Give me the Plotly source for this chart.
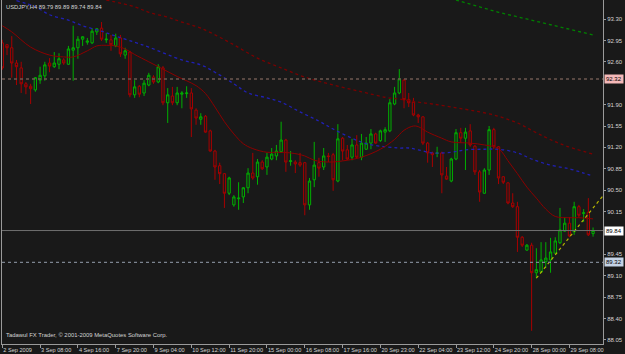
import plotly.graph_objects as go

# ---------------- data ----------------
bars = list(range(126))

opens = [92.91, 92.88, 92.83, 92.58, 92.50, 92.24, 92.20, 92.14, 92.30, 92.37,
         92.58, 92.52, 92.56, 92.63, 92.56, 92.79, 92.83, 92.97, 92.92, 92.91,
         93.09, 93.15, 92.96, 92.96, 92.86, 92.99, 92.71, 92.76, 92.06, 92.20,
         92.09, 92.22, 92.35, 92.27, 92.50, 91.93, 92.04, 91.93, 92.07, 92.08,
         92.09, 91.81, 91.66, 91.71, 91.47, 91.14, 90.90, 90.77, 90.45, 90.26,
         90.36, 90.39, 90.54, 90.78, 90.72, 90.96, 90.88, 91.01, 91.06, 91.13,
         91.32, 90.97, 90.96, 90.95, 90.95, 90.26, 90.67, 90.95, 90.88, 91.06,
         91.08, 90.65, 91.35, 91.16, 91.04, 91.24, 91.04, 91.17, 91.27, 91.42,
         91.31, 91.45, 91.47, 91.91, 92.09, 92.30, 91.98, 91.94, 91.73, 91.70,
         91.27, 91.11, 91.10, 91.11, 90.73, 90.65, 91.01, 91.44, 91.35, 91.47,
         91.22, 90.80, 90.45, 90.83, 91.49, 91.21, 90.72, 90.62, 90.29, 90.23,
         89.73, 89.52, 89.60, 89.15, 89.16, 89.33, 89.36, 89.47, 89.64, 89.83,
         89.96, 89.82, 90.23, 90.12, 90.14, 89.79]

highs = [92.96, 92.89, 93.02, 92.63, 92.60, 92.27, 92.24, 92.35, 92.52, 92.60,
         92.66, 92.76, 92.74, 92.66, 92.86, 93.19, 93.02, 93.02, 92.99, 93.15,
         93.15, 93.25, 93.07, 93.04, 93.06, 93.04, 92.83, 92.78, 92.30, 92.22,
         92.30, 92.42, 92.38, 92.56, 92.53, 92.17, 92.19, 92.19, 92.12, 92.20,
         92.17, 91.84, 91.76, 91.73, 91.49, 91.16, 90.95, 90.78, 90.72, 90.42,
         90.63, 90.55, 90.86, 91.11, 91.01, 90.99, 91.11, 91.19, 91.24, 91.62,
         91.34, 91.14, 90.99, 91.11, 90.96, 90.70, 91.29, 91.03, 91.19, 91.11,
         91.11, 91.58, 91.37, 91.24, 91.34, 91.40, 91.42, 91.37, 91.50, 91.44,
         91.49, 91.53, 91.99, 92.19, 92.48, 92.32, 92.09, 92.01, 91.75, 91.71,
         91.29, 91.13, 91.21, 91.13, 90.88, 91.03, 91.50, 91.52, 91.52, 91.58,
         91.24, 90.83, 90.86, 91.55, 91.52, 91.22, 90.73, 90.63, 90.45, 90.31,
         89.75, 89.62, 89.64, 89.55, 89.65, 89.65, 89.72, 89.73, 90.21, 90.06,
         90.06, 90.31, 90.26, 90.19, 90.37, 89.89]

lows = [92.47, 92.71, 92.34, 92.22, 92.09, 92.07, 91.91, 92.11, 92.24, 92.29,
        92.43, 92.50, 92.48, 92.55, 92.55, 92.29, 92.65, 92.86, 92.88, 92.89,
        93.04, 92.94, 92.91, 92.78, 92.84, 92.68, 92.65, 92.02, 92.01, 92.02,
        92.04, 92.20, 92.24, 92.25, 91.89, 91.60, 91.89, 91.89, 91.84, 92.01,
        91.37, 91.57, 91.57, 91.44, 91.13, 90.67, 90.60, 90.21, 90.42, 90.23,
        90.18, 90.29, 90.45, 90.67, 90.59, 90.83, 90.75, 90.99, 90.99, 91.11,
        90.80, 90.90, 90.78, 90.88, 90.09, 90.18, 90.55, 90.72, 90.83, 90.96,
        90.49, 90.63, 90.99, 90.99, 90.99, 91.01, 90.99, 91.16, 91.17, 91.26,
        91.29, 91.29, 91.45, 91.89, 92.07, 91.84, 91.86, 91.71, 91.60, 91.24,
        90.95, 90.88, 91.04, 90.45, 90.67, 90.63, 90.99, 91.27, 90.83, 91.21,
        90.75, 90.31, 90.44, 90.75, 91.17, 90.60, 90.60, 90.27, 90.21, 89.49,
        89.57, 89.51, 88.20, 89.06, 89.15, 89.23, 89.15, 89.46, 89.62, 89.82,
        89.73, 89.77, 90.05, 89.98, 89.75, 89.74]

closes = [92.50, 92.83, 92.58, 92.52, 92.24, 92.19, 92.16, 92.34, 92.38, 92.55,
          92.53, 92.58, 92.65, 92.58, 92.81, 92.83, 92.97, 93.01, 92.94, 93.10,
          93.14, 92.97, 92.97, 92.88, 92.99, 92.73, 92.78, 92.06, 92.19, 92.07,
          92.25, 92.38, 92.27, 92.52, 91.93, 92.06, 91.93, 92.09, 92.09, 92.09,
          91.83, 91.68, 91.70, 91.45, 91.14, 90.88, 90.77, 90.45, 90.70, 90.39,
          90.37, 90.54, 90.78, 90.70, 90.96, 90.85, 91.04, 91.09, 91.14, 91.32,
          90.96, 90.98, 90.93, 90.91, 90.26, 90.65, 90.91, 90.86, 91.06, 91.05,
          90.67, 91.34, 91.14, 91.01, 91.24, 91.04, 91.27, 91.27, 91.42, 91.27,
          91.47, 91.49, 91.93, 92.09, 92.32, 91.98, 91.93, 91.73, 91.70, 91.27,
          91.11, 91.08, 91.11, 90.75, 90.68, 91.01, 91.44, 91.35, 91.45, 91.24,
          90.80, 90.47, 90.83, 91.49, 91.21, 90.70, 90.63, 90.29, 90.23, 89.73,
          89.60, 89.60, 89.15, 89.20, 89.36, 89.39, 89.49, 89.67, 89.85, 89.96,
          89.75, 90.23, 90.09, 90.13, 89.77, 89.84]

# moving averages (bar index, price)
ma_red_x = [0, 2, 6, 10, 13, 15, 18, 20, 22, 24, 26, 28, 31, 34, 37, 41, 43, 45, 47, 49,
            51, 53, 56, 58, 61, 64, 66, 69, 73, 76, 80, 83, 85, 87, 88, 90, 93, 95, 99, 102,
            105, 107, 109, 111, 113, 115, 117, 120, 122, 125]
ma_red_y = [93.19, 93.09, 92.84, 92.71, 92.68, 92.68, 92.78, 92.86, 92.87, 92.86,
            92.81, 92.72, 92.60, 92.48, 92.36, 92.21, 92.08, 91.86, 91.62, 91.42,
            91.26, 91.18, 91.12, 91.12, 91.11, 91.06, 90.99, 90.96, 90.99, 91.04,
            91.17, 91.33, 91.48, 91.55, 91.54, 91.45, 91.35, 91.29, 91.27, 91.24,
            91.18, 90.98, 90.77, 90.55, 90.37, 90.19, 90.07, 90.05, 90.05, 90.03]

ma_blue_x = [3, 7, 10, 14, 17, 21, 24, 28, 31, 38, 42, 45, 49, 52, 56, 59, 63, 67, 70, 74,
             77, 81, 84, 86, 88, 91, 95, 98, 102, 105, 109, 112, 116, 120, 123, 125]
ma_blue_y = [93.60, 93.50, 93.37, 93.28, 93.19, 93.10, 93.02, 92.92, 92.84, 92.63,
             92.55, 92.43, 92.24, 92.09, 92.01, 91.94, 91.78, 91.63, 91.50, 91.35,
             91.26, 91.21, 91.19, 91.19, 91.16, 91.11, 91.12, 91.16, 91.17, 91.17,
             91.11, 91.01, 90.91, 90.85, 90.78, 90.73]

ma_slow_x = [22, 28, 31, 35, 38, 42, 48, 54, 59, 64, 70, 76, 81, 84, 88, 91, 95, 99,
             104, 109, 113, 118, 125]
ma_slow_y = [93.61, 93.50, 93.41, 93.33, 93.25, 93.15, 92.92, 92.66, 92.50, 92.35,
             92.22, 92.11, 92.02, 91.99, 91.94, 91.91, 91.86, 91.81, 91.73, 91.60,
             91.44, 91.26, 91.09]

ma_green_x = [96, 105, 118, 125]
ma_green_y = [93.61, 93.41, 93.17, 93.04]

trend_x = [113, 127]
trend_y = [89.06, 90.40]

level_upper = 92.32
level_bid = 89.84
level_lower = 89.32

# price scale labels (92.25 and 89.80 sit under the level tags in the original)
price_ticks = [88.05, 88.40, 88.75, 89.10, 89.45, 90.15, 90.50, 90.85,
               91.20, 91.55, 91.90, 92.60, 92.95, 93.30]

tick_bars = [0, 8, 16, 24, 32, 40, 48, 56, 64, 72, 80, 88, 96, 104, 112, 120]
tick_labels = ["2 Sep 2009", "3 Sep 08:00", "4 Sep 16:00", "7 Sep 20:00", "9 Sep 04:00",
               "10 Sep 12:00", "11 Sep 20:00", "15 Sep 00:00", "16 Sep 08:00",
               "17 Sep 16:00", "20 Sep 23:00", "22 Sep 04:00", "23 Sep 12:00",
               "24 Sep 20:00", "28 Sep 00:00", "29 Sep 08:00"]

header = "USDJPY,H4 89.79 89.89 89.74 89.84"
footer = "Tadawul FX Trader, \u00a9 2001-2009 MetaQuotes Software Corp."

# ---------------- style ----------------
BG = "#191919"
AXIS = "#9a9a9a"
TXT = "#d4d4d4"
FONT = "Liberation Sans"

fig = go.Figure()

fig.add_trace(go.Candlestick(
    x=bars, open=opens, high=highs, low=lows, close=closes,
    increasing=dict(line=dict(color="#00b000", width=1), fillcolor=BG),
    decreasing=dict(line=dict(color="#a80000", width=1), fillcolor=BG),
    whiskerwidth=0, showlegend=False, hoverinfo="skip"))

fig.add_trace(go.Scatter(x=ma_slow_x, y=ma_slow_y, mode="lines", line_shape="spline",
                         line=dict(color="#7a0000", width=1.3, dash="dot"),
                         showlegend=False, hoverinfo="skip"))
fig.add_trace(go.Scatter(x=ma_green_x, y=ma_green_y, mode="lines",
                         line=dict(color="#008000", width=1.3, dash="dot"),
                         showlegend=False, hoverinfo="skip"))
fig.add_trace(go.Scatter(x=ma_blue_x, y=ma_blue_y, mode="lines", line_shape="spline",
                         line=dict(color="#2020b4", width=1.3, dash="dot"),
                         showlegend=False, hoverinfo="skip"))
fig.add_trace(go.Scatter(x=ma_red_x, y=ma_red_y, mode="lines", line_shape="spline",
                         line=dict(color="#8c0000", width=1),
                         showlegend=False, hoverinfo="skip"))
fig.add_trace(go.Scatter(x=trend_x, y=trend_y, mode="lines",
                         line=dict(color="#b4b400", width=1.2, dash="dot"),
                         showlegend=False, hoverinfo="skip"))

shapes = [
    dict(type="line", xref="paper", x0=0, x1=1, yref="y", y0=level_upper, y1=level_upper,
         line=dict(color="#6e5850", width=1.5, dash="dot")),
    dict(type="line", xref="paper", x0=0, x1=1, yref="y", y0=level_bid, y1=level_bid,
         line=dict(color="#707070", width=1)),
    dict(type="line", xref="paper", x0=0, x1=1, yref="y", y0=level_lower, y1=level_lower,
         line=dict(color="#7c8490", width=1.2, dash="dot")),
]

annotations = [
    dict(text=header, xref="paper", yref="paper", x=0, y=1, xanchor="left", yanchor="top",
         xshift=2, yshift=-2, showarrow=False, font=dict(family=FONT, size=5.8, color=TXT)),
    dict(text=footer, xref="paper", yref="paper", x=0, y=0, xanchor="left", yanchor="bottom",
         xshift=2, yshift=4, showarrow=False, font=dict(family=FONT, size=5.9, color=TXT)),
]
for lvl, bg in [(level_upper, "#f4b8b8"), (level_bid, "#ffffff"), (level_lower, "#c4d2e4")]:
    annotations.append(dict(text=f"{lvl:.2f}", xref="paper", yref="y", x=1, y=lvl,
                            xanchor="left", yanchor="middle", xshift=1, showarrow=False,
                            bgcolor=bg, borderpad=1,
                            font=dict(family=FONT, size=6, color="#000000")))

fig.update_layout(
    width=625, height=354,
    margin=dict(l=2, r=22, t=0, b=10, pad=0),
    paper_bgcolor=BG, plot_bgcolor=BG,
    shapes=shapes, annotations=annotations,
    xaxis=dict(range=[-0.06, 127.1], tickmode="array", tickvals=tick_bars, ticktext=tick_labels,
               tickangle=0, automargin=False,
               ticks="outside", ticklen=3, tickcolor=AXIS, showgrid=False, zeroline=False,
               showline=True, linecolor=AXIS, linewidth=1, ticklabelposition="outside right",
               tickfont=dict(family=FONT, size=5.6, color=TXT),
               rangeslider=dict(visible=False)),
    yaxis=dict(side="right", range=[87.984, 93.611], tickmode="array", tickvals=price_ticks,
               tickformat=".2f", ticks="outside", ticklen=2, tickcolor=AXIS, automargin=False,
               showline=True, mirror=True, linecolor=AXIS, linewidth=1,
               showgrid=False, zeroline=False,
               tickfont=dict(family=FONT, size=6, color=TXT)),
)

fig.write_html("out.html")
